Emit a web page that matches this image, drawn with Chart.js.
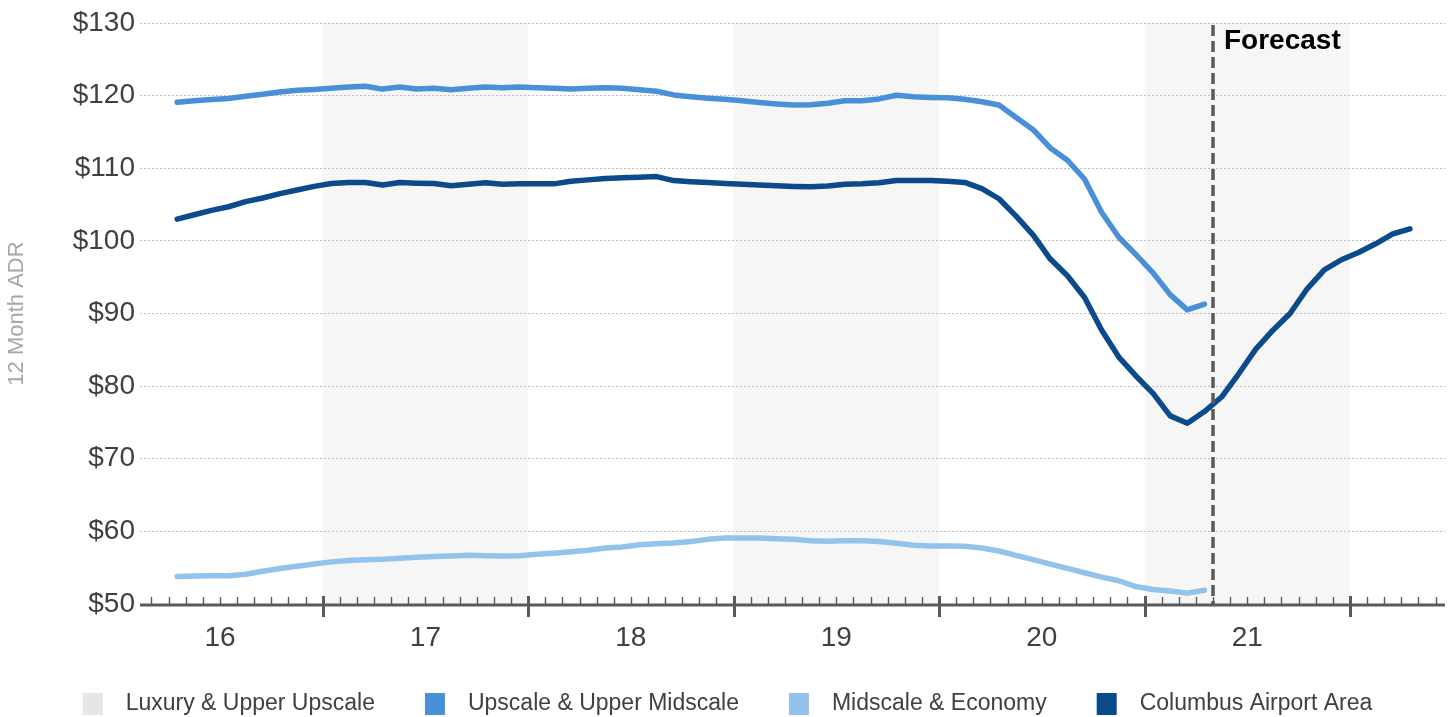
<!DOCTYPE html>
<html>
<head>
<meta charset="utf-8">
<script src="https://cdn.jsdelivr.net/npm/chart.js@4.4.1/dist/chart.umd.min.js"></script>
<style>
  html, body { margin: 0; padding: 0; background: #ffffff; }
  #wrap { width: 1455px; height: 717px; }
</style>
</head>
<body>
<div id="wrap"><canvas id="adr"></canvas></div>
<script>
// Months are counted from January 2016 (0 = Jan 2016); each point sits mid-month.
const firstMonth = 3.5;              // April 2016
const yearLabels = ['16', '17', '18', '19', '20', '21'];
const yearCenters = [6, 18, 30, 42, 54, 66];
const shadedYears = [[12, 24], [36, 48], [60, 72]];
const forecastStart = 64;            // May 2021
const forecastText = 'Forecast';

const seriesNames = ['Luxury & Upper Upscale', 'Upscale & Upper Midscale', 'Midscale & Economy', 'Columbus Airport Area'];
const seriesColors = ['#e6e6e6', '#4a90d9', '#93c3eb', '#0b4a8b'];

// 12-month ADR, USD
const upscaleUpperMidscale = [
  119.1, 119.3, 119.45, 119.6, 119.9, 120.2, 120.5, 120.75, 120.85, 121.0,
  121.2, 121.3, 120.9, 121.2, 120.9, 121.0, 120.8, 121.0, 121.2, 121.1,
  121.2, 121.1, 121.0, 120.9, 121.0, 121.1, 121.0, 120.8, 120.6, 120.1,
  119.85, 119.65, 119.5, 119.3, 119.05, 118.85, 118.7, 118.75, 118.95, 119.3,
  119.3, 119.55, 120.05, 119.85, 119.75, 119.7, 119.5, 119.15, 118.7, 117.0,
  115.3, 112.8, 111.1, 108.5, 103.9, 100.5, 98.1, 95.6, 92.6, 90.5,
  91.3
];
const midscaleEconomy = [
  53.8, 53.85, 53.9, 53.9, 54.1, 54.5, 54.9, 55.2, 55.5, 55.8,
  56.0, 56.1, 56.15, 56.3, 56.45, 56.55, 56.6, 56.7, 56.65, 56.6,
  56.65, 56.85, 57.0, 57.2, 57.4, 57.7, 57.85, 58.15, 58.3, 58.4,
  58.6, 58.9, 59.1, 59.1, 59.1, 59.0, 58.9, 58.7, 58.65, 58.7,
  58.7, 58.6, 58.35, 58.1, 58.0, 58.0, 57.95, 57.7, 57.3, 56.7,
  56.1, 55.5, 54.9, 54.3, 53.7, 53.2, 52.4, 52.0, 51.8, 51.5,
  51.9
];
const columbusAirport = [
  103.0, 103.6, 104.2, 104.7, 105.4, 105.9, 106.5, 107.0, 107.5, 107.9,
  108.05, 108.05, 107.7, 108.05, 107.95, 107.9, 107.6, 107.8, 108.0, 107.8,
  107.85, 107.85, 107.85, 108.2, 108.4, 108.6, 108.7, 108.75, 108.85, 108.3,
  108.15, 108.05, 107.9, 107.8, 107.7, 107.6, 107.5, 107.45, 107.55, 107.8,
  107.85, 108.0, 108.3, 108.3, 108.3, 108.2, 108.05, 107.2, 105.8, 103.4,
  100.8, 97.5, 95.2, 92.2, 87.7, 84.0, 81.4, 79.0, 75.9, 74.9,
  76.5, 78.5, 81.7, 85.1, 87.7, 90.0, 93.4, 96.0, 97.4, 98.4,
  99.6, 100.95, 101.65
];

const toPoints = values => values.map((v, i) => ({ x: firstMonth + i, y: v }));

const FONT = '"Liberation Sans", Arial, Helvetica, sans-serif';

// Alternate-year shading behind the grid
const yearBands = {
  id: 'yearBands',
  beforeDraw(chart) {
    const { ctx, chartArea, scales: { x } } = chart;
    ctx.save();
    ctx.fillStyle = '#f6f6f6';
    shadedYears.forEach(([a, b]) => {
      const x0 = x.getPixelForValue(a), x1 = x.getPixelForValue(b);
      ctx.fillRect(x0, chartArea.top, x1 - x0, chartArea.bottom - chartArea.top);
    });
    ctx.restore();
  }
};

// Forecast divider, axis baseline and month / year tick marks
const axisMarks = {
  id: 'axisMarks',
  afterDatasetsDraw(chart) {
    const { ctx, chartArea, scales: { x } } = chart;
    const base = chartArea.bottom + 1;
    ctx.save();

    const fx = x.getPixelForValue(forecastStart);
    ctx.strokeStyle = '#595959';
    ctx.lineWidth = 3.5;
    ctx.setLineDash([11, 5]);
    ctx.beginPath();
    ctx.moveTo(fx, chartArea.top + 2);
    ctx.lineTo(fx, base);
    ctx.stroke();
    ctx.setLineDash([]);

    ctx.fillStyle = '#000000';
    ctx.font = 'bold 28px ' + FONT;
    ctx.textBaseline = 'alphabetic';
    ctx.textAlign = 'left';
    ctx.fillText(forecastText, fx + 11, chartArea.top + 26);

    ctx.strokeStyle = '#5a5a5a';
    ctx.lineWidth = 3;
    ctx.beginPath();
    ctx.moveTo(chartArea.left, base);
    ctx.lineTo(chartArea.right, base);
    ctx.stroke();

    for (let m = Math.ceil(x.min); m <= Math.floor(x.max); m++) {
      const px = Math.round(x.getPixelForValue(m)) + 0.5;
      ctx.beginPath();
      if (m % 12 === 0) {
        ctx.lineWidth = 3;
        ctx.moveTo(px, base - 9);
        ctx.lineTo(px, base + 12);
      } else {
        ctx.lineWidth = 1.4;
        ctx.moveTo(px, base - 8);
        ctx.lineTo(px, base);
      }
      ctx.stroke();
    }
    ctx.restore();
  }
};

// Single-row legend under the axis
const legendRow = {
  id: 'legendRow',
  afterDraw(chart, args, opts) {
    const ctx = chart.ctx;
    ctx.save();
    ctx.font = opts.font;
    const items = chart.data.datasets.map(d => ({ text: d.label, color: d.backgroundColor }));
    const widths = items.map(it => ctx.measureText(it.text).width);
    const total = widths.reduce((s, w) => s + opts.box + opts.gap + w, 0) + opts.spacing * (items.length - 1);
    let x = (chart.width - total) / 2;
    ctx.textBaseline = 'middle';
    ctx.textAlign = 'left';
    items.forEach((it, i) => {
      ctx.fillStyle = it.color;
      ctx.fillRect(x, opts.y - opts.boxH / 2, opts.box, opts.boxH);
      x += opts.box + opts.gap;
      ctx.fillStyle = opts.color;
      ctx.fillText(it.text, x, opts.y);
      x += widths[i] + opts.spacing;
    });
    ctx.restore();
  }
};

const lineStyle = { borderWidth: 5.5, pointRadius: 0, pointHoverRadius: 0, tension: 0, fill: false,
                    borderCapStyle: 'round', borderJoinStyle: 'round' };

new Chart(document.getElementById('adr'), {
  type: 'line',
  data: {
    datasets: [
      { label: seriesNames[0], data: [], borderColor: seriesColors[0], backgroundColor: seriesColors[0], ...lineStyle },
      { label: seriesNames[1], data: toPoints(upscaleUpperMidscale), borderColor: seriesColors[1], backgroundColor: seriesColors[1], ...lineStyle },
      { label: seriesNames[2], data: toPoints(midscaleEconomy), borderColor: seriesColors[2], backgroundColor: seriesColors[2], ...lineStyle },
      { label: seriesNames[3], data: toPoints(columbusAirport), borderColor: seriesColors[3], backgroundColor: seriesColors[3], ...lineStyle }
    ]
  },
  options: {
    responsive: true,
    maintainAspectRatio: false,
    animation: false,
    devicePixelRatio: 1,
    layout: { padding: { left: 0, right: 10, top: 23, bottom: 63 } },
    plugins: {
      legend: { display: false },
      tooltip: { enabled: false },
      legendRow: { font: '23px ' + FONT, color: '#404040', box: 20, boxH: 22, gap: 23, spacing: 50, y: 704 }
    },
    scales: {
      x: {
        type: 'linear',
        min: 1.33,
        max: 77.55,
        grid: { display: false, drawTicks: false },
        border: { display: false },
        afterBuildTicks: scale => { scale.ticks = yearCenters.map(v => ({ value: v })); },
        afterFit: scale => { scale.height = 50; },
        ticks: {
          autoSkip: false,
          maxRotation: 0,
          padding: 17,
          color: '#404040',
          font: { family: FONT, size: 28 },
          callback: (value, index) => yearLabels[index]
        }
      },
      y: {
        min: 50,
        max: 130,
        afterFit: scale => { scale.width = 140; },
        grid: { color: '#bdbdbd', lineWidth: 1, drawTicks: false },
        border: { display: false, dash: [2, 2] },
        ticks: {
          stepSize: 10,
          padding: 5,
          color: '#404040',
          font: { family: FONT, size: 28 },
          callback: v => '$' + v
        },
        title: {
          display: true,
          text: '12 Month ADR',
          color: '#a6a6a6',
          font: { family: FONT, size: 22 },
          padding: { top: 4, bottom: 0 }
        }
      }
    }
  },
  plugins: [yearBands, axisMarks, legendRow]
});
</script>
</body>
</html>
